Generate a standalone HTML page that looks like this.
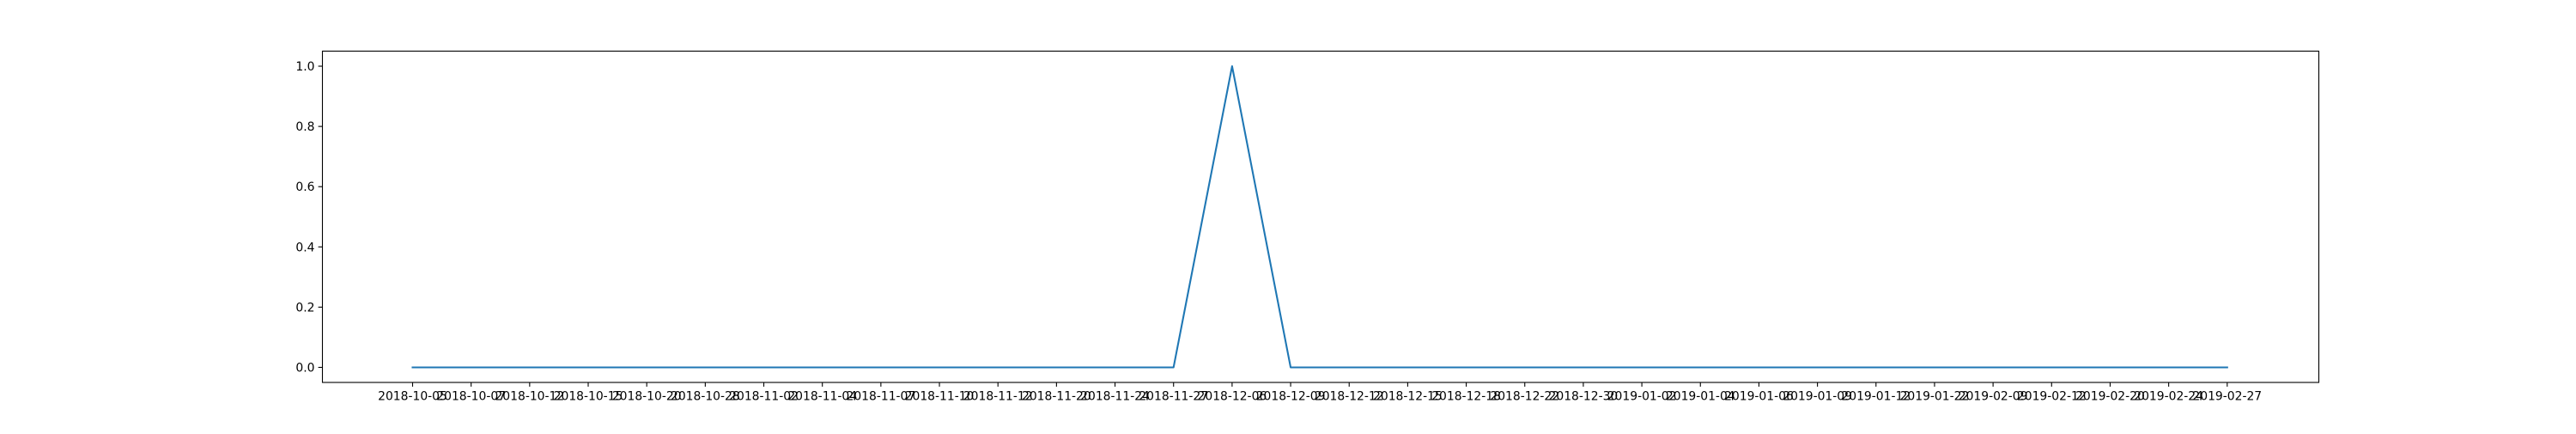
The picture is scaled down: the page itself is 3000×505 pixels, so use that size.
<!DOCTYPE html>
<html><head><meta charset="utf-8"><style>
html,body{margin:0;padding:0;background:#fff;}
svg text{font-family:"DejaVu Sans","Liberation Sans",sans-serif;font-size:13.9px;fill:#000;}
</style></head><body>
<svg id="chart" width="3000" height="500" xmlns="http://www.w3.org/2000/svg">
<rect x="0" y="0" width="3000" height="500" fill="#fff"/>
<g id="grid"></g>
<g id="xaxis"></g>
<g id="yaxis"></g>
<path id="series" fill="none" stroke="#1f77b4" stroke-width="2.08" stroke-linejoin="round" stroke-linecap="square"/>
<rect x="375.5" y="59.5" width="2325" height="385.5" fill="none" stroke="#000" stroke-width="1.1"/>
</svg>
<script>
const categories = ["2018-10-05","2018-10-07","2018-10-12","2018-10-15","2018-10-20","2018-10-28","2018-11-02","2018-11-04","2018-11-07","2018-11-10","2018-11-12","2018-11-20","2018-11-24","2018-11-27","2018-12-06","2018-12-09","2018-12-12","2018-12-15","2018-12-18","2018-12-22","2018-12-30","2019-01-02","2019-01-04","2019-01-06","2019-01-09","2019-01-12","2019-01-22","2019-02-09","2019-02-12","2019-02-20","2019-02-24","2019-02-27"];
const values = [0,0,0,0,0,0,0,0,0,0,0,0,0,0,1,0,0,0,0,0,0,0,0,0,0,0,0,0,0,0,0,0];
const yTicks = [0,0.2,0.4,0.6,0.8,1.0];
const yTickLabels = ["0.0","0.2","0.4","0.6","0.8","1.0"];

const NS="http://www.w3.org/2000/svg";
const L=375.5,R=2700.5,T=59.5,B=445;
const n=categories.length;
const x0=480.5,x1=2593.8;
function xs(i){return n>1? x0+(x1-x0)*i/(n-1) : (L+R)/2;}
let vmin=Math.min(...values),vmax=Math.max(...values);
if(vmax===vmin){vmax=vmin+1;}
const pad=(vmax-vmin)*0.05;
const ylo=vmin-pad,yhi=vmax+pad;
function ys(v){return B-(v-ylo)/(yhi-ylo)*(B-T);}

const xa=document.getElementById('xaxis');
categories.forEach((c,i)=>{
  const t=document.createElementNS(NS,'line');
  t.setAttribute('x1',xs(i));t.setAttribute('x2',xs(i));
  t.setAttribute('y1',B);t.setAttribute('y2',B+4.9);
  t.setAttribute('stroke','#000');t.setAttribute('stroke-width','1.1');
  
  
  xa.appendChild(t);
  const tx=document.createElementNS(NS,'text');
  tx.setAttribute('x',xs(i));tx.setAttribute('y',B+20.5);
  tx.setAttribute('text-anchor','middle');
  tx.textContent=c;
  
  
  xa.appendChild(tx);
});
const ya=document.getElementById('yaxis');
yTicks.forEach((v,i)=>{
  const y=ys(v);
  const t=document.createElementNS(NS,'line');
  t.setAttribute('x1',L-4.9);t.setAttribute('x2',L);
  t.setAttribute('y1',y);t.setAttribute('y2',y);
  t.setAttribute('stroke','#000');t.setAttribute('stroke-width','1.1');
  
  
  ya.appendChild(t);
  const tx=document.createElementNS(NS,'text');
  tx.setAttribute('x',L-9);tx.setAttribute('y',y+5);
  tx.setAttribute('text-anchor','end');
  tx.textContent=yTickLabels[i];
  
  
  ya.appendChild(tx);
});
let d='';
values.forEach((v,i)=>{d+=(i?'L':'M')+xs(i).toFixed(2)+','+ys(v).toFixed(2);});
document.getElementById('series').setAttribute('d',d);
</script>
</body></html>
